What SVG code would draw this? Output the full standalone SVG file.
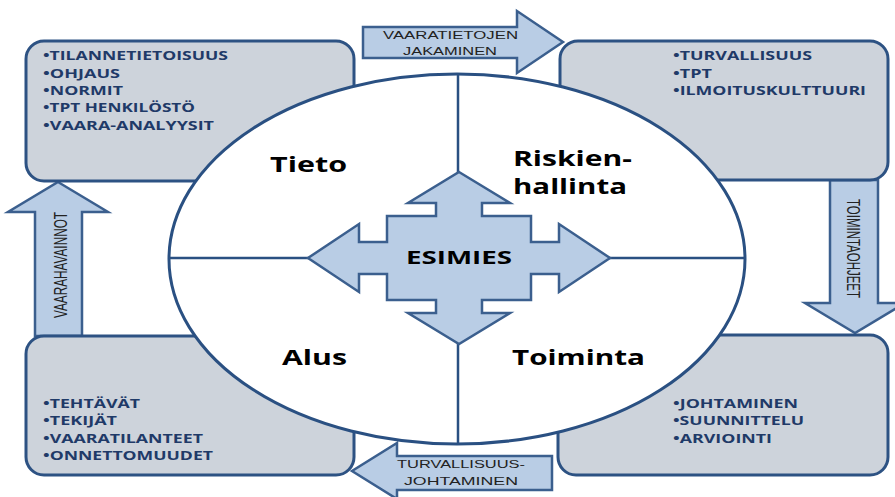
<svg xmlns="http://www.w3.org/2000/svg" width="895" height="497" viewBox="0 0 895 497">
<style>
.box{fill:#CDD3DB;stroke:#2D5283;stroke-width:3}
.arr{fill:#B9CDE5;stroke:#3B5F8E;stroke-width:2.5;stroke-linejoin:miter}
.ell{fill:#FFFFFF;stroke:#2A5082;stroke-width:3}
.qline{stroke:#2A5082;stroke-width:2.5;fill:none}
.list{font-family:"Open Sans","Liberation Sans",sans-serif;font-weight:bold;font-size:12px;fill:#1F3A68}
.quad{font-family:"Open Sans","Liberation Sans",sans-serif;font-weight:bold;font-size:21px;fill:#000}
.center{font-family:"Open Sans","Liberation Sans",sans-serif;font-weight:bold;font-size:17px;fill:#000}
.atext{font-family:"Liberation Sans",Arial,sans-serif;font-size:11.5px;fill:#222}
.vtext{font-family:"Liberation Sans",Arial,sans-serif;font-size:19px;fill:#222}
</style>
<rect width="895" height="497" fill="#FFFFFF"/>

<g id="connectors">
<path class="arr" d="M363,27 L517,27 L517,11 L563,42 L517,73 L517,58 L363,58 Z"/>
<path class="arr" d="M58,182 L108,212 L82,212 L82,336 L35,336 L35,212 L8,212 Z"/>
<path class="arr" d="M830,180 L878,180 L878,303 L905,303 L855,333 L805,303 L830,303 Z"/>
<path class="arr" d="M552,456 L397,456 L397,443 L352,471 L397,499 L397,490 L552,490 Z"/>
<text class="atext" x="383" y="39" textLength="135" lengthAdjust="spacingAndGlyphs">VAARATIETOJEN</text>
<text class="atext" x="403" y="55" textLength="94" lengthAdjust="spacingAndGlyphs">JAKAMINEN</text>
<text class="atext" x="397" y="468" textLength="128" lengthAdjust="spacingAndGlyphs">TURVALLISUUS-</text>
<text class="atext" x="404" y="485" textLength="114" lengthAdjust="spacingAndGlyphs">JOHTAMINEN</text>
<text class="vtext" transform="translate(67,318) rotate(-90)" x="0" y="0" textLength="106" lengthAdjust="spacingAndGlyphs">VAARAHAVAINNOT</text>
<text class="vtext" transform="translate(847,199) rotate(90)" x="0" y="0" textLength="99" lengthAdjust="spacingAndGlyphs">TOIMINTAOHJEET</text>
</g>

<g id="box-tieto">
<rect class="box" x="26" y="41" width="328" height="140" rx="18"/>
<text class="list" x="43" y="60" textLength="185" lengthAdjust="spacingAndGlyphs">•TILANNETIETOISUUS</text>
<text class="list" x="43" y="78" textLength="77" lengthAdjust="spacingAndGlyphs">•OHJAUS</text>
<text class="list" x="43" y="95" textLength="80" lengthAdjust="spacingAndGlyphs">•NORMIT</text>
<text class="list" x="43" y="112" textLength="152" lengthAdjust="spacingAndGlyphs">•TPT HENKILÖSTÖ</text>
<text class="list" x="43" y="130" textLength="171" lengthAdjust="spacingAndGlyphs">•VAARA-ANALYYSIT</text>
</g>

<g id="box-riskienhallinta">
<rect class="box" x="560" y="41" width="328" height="139" rx="18"/>
<text class="list" x="673" y="60" textLength="139" lengthAdjust="spacingAndGlyphs">•TURVALLISUUS</text>
<text class="list" x="673" y="78" textLength="39" lengthAdjust="spacingAndGlyphs">•TPT</text>
<text class="list" x="673" y="95" textLength="193" lengthAdjust="spacingAndGlyphs">•ILMOITUSKULTTUURI</text>
</g>

<g id="box-alus">
<rect class="box" x="26" y="336" width="328" height="139" rx="18"/>
<text class="list" x="43" y="408" textLength="97" lengthAdjust="spacingAndGlyphs">•TEHTÄVÄT</text>
<text class="list" x="43" y="425" textLength="74" lengthAdjust="spacingAndGlyphs">•TEKIJÄT</text>
<text class="list" x="43" y="443" textLength="160" lengthAdjust="spacingAndGlyphs">•VAARATILANTEET</text>
<text class="list" x="43" y="460" textLength="170" lengthAdjust="spacingAndGlyphs">•ONNETTOMUUDET</text>
</g>

<g id="box-toiminta">
<rect class="box" x="558" y="335" width="330" height="140" rx="18"/>
<text class="list" x="673" y="408" textLength="125" lengthAdjust="spacingAndGlyphs">•JOHTAMINEN</text>
<text class="list" x="673" y="425" textLength="131" lengthAdjust="spacingAndGlyphs">•SUUNNITTELU</text>
<text class="list" x="673" y="443" textLength="99" lengthAdjust="spacingAndGlyphs">•ARVIOINTI</text>
</g>

<g id="ellipse">
<ellipse class="ell" cx="457" cy="259" rx="288" ry="185"/>
<line class="qline" x1="458" y1="74" x2="458" y2="444"/>
<line class="qline" x1="169" y1="258" x2="745" y2="258"/>
<text class="quad" x="270" y="172" textLength="77" lengthAdjust="spacingAndGlyphs">Tieto</text>
<text class="quad" x="513" y="166" textLength="119" lengthAdjust="spacingAndGlyphs">Riskien-</text>
<text class="quad" x="513" y="194" textLength="114" lengthAdjust="spacingAndGlyphs">hallinta</text>
<text class="quad" x="282" y="365" textLength="65" lengthAdjust="spacingAndGlyphs">Alus</text>
<text class="quad" x="512" y="365" textLength="133" lengthAdjust="spacingAndGlyphs">Toiminta</text>
</g>

<g id="esimies">
<path class="arr" d="M459,172 L510,203 L482,203 L482,216 L531,216 L531,242 L559,242 L559,224 L610,258 L559,292 L559,274 L531,274 L531,300 L482,300 L482,313 L510,313 L459,344 L408,313 L436,313 L436,300 L387,300 L387,274 L359,274 L359,292 L308,258 L359,224 L359,242 L387,242 L387,216 L436,216 L436,203 L408,203 Z"/>
<text class="center" x="406" y="264" textLength="106" lengthAdjust="spacingAndGlyphs">ESIMIES</text>
</g>
</svg>
